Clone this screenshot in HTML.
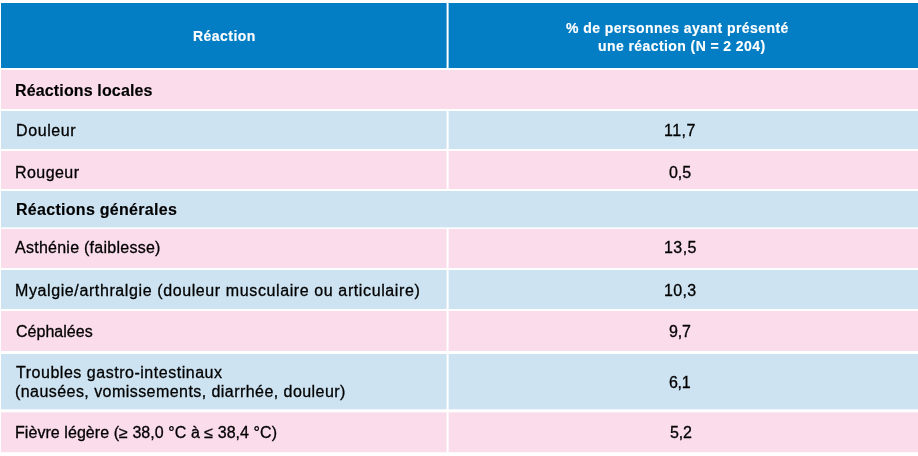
<!DOCTYPE html>
<html lang="fr">
<head>
<meta charset="utf-8">
<title>Réactions</title>
<style>
html,body{margin:0;padding:0;background:#fff;}
body{width:918px;height:456px;position:relative;overflow:hidden;font-family:"Liberation Sans",sans-serif;}
svg.bg{position:absolute;left:0;top:0;width:918px;height:456px;display:block;}
.t{position:absolute;white-space:nowrap;line-height:1;color:#000000;transform-origin:0 0;will-change:transform;}
.t{-webkit-text-stroke:0.3px currentColor;}
.b{font-weight:bold;-webkit-text-stroke:0.15px currentColor;}
.h{font-weight:bold;color:#fff;-webkit-text-stroke:0.15px currentColor;}
</style>
</head>
<body>
<svg class="bg" width="918" height="456" viewBox="0 0 918 456">
<rect x="1" y="3" width="445.6" height="65" fill="#037dc4"/>
<rect x="448.6" y="3" width="469.4" height="65" fill="#037dc4"/>
<rect x="1" y="70" width="917" height="39" fill="#fbdcea"/>
<rect x="1" y="111" width="445.6" height="38" fill="#cde3f1"/>
<rect x="448.6" y="111" width="469.4" height="38" fill="#cde3f1"/>
<rect x="1" y="151" width="445.6" height="38" fill="#fbdcea"/>
<rect x="448.6" y="151" width="469.4" height="38" fill="#fbdcea"/>
<rect x="1" y="191" width="917" height="36.4" fill="#cde3f1"/>
<rect x="1" y="228.9" width="445.6" height="39.1" fill="#fbdcea"/>
<rect x="448.6" y="228.9" width="469.4" height="39.1" fill="#fbdcea"/>
<rect x="1" y="270" width="445.6" height="39" fill="#cde3f1"/>
<rect x="448.6" y="270" width="469.4" height="39" fill="#cde3f1"/>
<rect x="1" y="311" width="445.6" height="40" fill="#fbdcea"/>
<rect x="448.6" y="311" width="469.4" height="40" fill="#fbdcea"/>
<rect x="1" y="354" width="445.6" height="55.3" fill="#cde3f1"/>
<rect x="448.6" y="354" width="469.4" height="55.3" fill="#cde3f1"/>
<rect x="1" y="412.3" width="445.6" height="39.9" fill="#fbdcea"/>
<rect x="448.6" y="412.3" width="469.4" height="39.9" fill="#fbdcea"/>
</svg>
<span id="h1" class="t h" style="left:192.60px;top:28.95px;font-size:14px;letter-spacing:0.457px;">Réaction</span>
<span id="h2" class="t h" style="left:566.15px;top:20.95px;font-size:14px;letter-spacing:0.439px;">% de personnes ayant présenté</span>
<span id="h3" class="t h" style="left:597.80px;top:38.95px;font-size:14px;letter-spacing:0.417px;">une réaction (N = 2 204)</span>
<span id="s1" class="t b" style="left:15.15px;top:82.91px;font-size:16px;letter-spacing:0.144px;">Réactions locales</span>
<span id="r1" class="t " style="left:15.80px;top:122.91px;font-size:16px;letter-spacing:0.600px;">Douleur</span>
<span id="r2" class="t " style="left:15.30px;top:164.91px;font-size:16px;letter-spacing:0.433px;">Rougeur</span>
<span id="s2" class="t b" style="left:15.60px;top:201.91px;font-size:16px;letter-spacing:0.289px;">Réactions générales</span>
<span id="r3" class="t " style="left:15.45px;top:239.91px;font-size:16px;letter-spacing:0.258px;">Asthénie (faiblesse)</span>
<span id="r4" class="t " style="left:15.05px;top:282.91px;font-size:16px;letter-spacing:0.606px;">Myalgie/arthralgie (douleur musculaire ou articulaire)</span>
<span id="r5" class="t " style="left:16.10px;top:323.91px;font-size:16px;letter-spacing:0.025px;">Céphalées</span>
<span id="r6a" class="t " style="left:15.80px;top:364.91px;font-size:16px;letter-spacing:0.523px;">Troubles gastro-intestinaux</span>
<span id="r6b" class="t " style="left:15.10px;top:383.91px;font-size:16px;letter-spacing:0.444px;">(nausées, vomissements, diarrhée, douleur)</span>
<span id="r7" class="t " style="left:15.10px;top:424.91px;font-size:16px;letter-spacing:0.061px;">Fièvre légère (≥ 38,0 °C à ≤ 38,4 °C)</span>
<span id="v1" class="t " style="left:663.75px;top:122.91px;font-size:16px;letter-spacing:0.500px;">11,7</span>
<span id="v2" class="t " style="left:668.95px;top:164.91px;font-size:16px;letter-spacing:-0.050px;">0,5</span>
<span id="v3" class="t " style="left:663.62px;top:239.91px;font-size:16px;letter-spacing:0.417px;">13,5</span>
<span id="v4" class="t " style="left:663.50px;top:282.91px;font-size:16px;letter-spacing:0.333px;">10,3</span>
<span id="v5" class="t " style="left:668.88px;top:323.91px;font-size:16px;letter-spacing:-0.125px;">9,7</span>
<span id="v6" class="t " style="left:668.90px;top:374.91px;font-size:16px;letter-spacing:-0.300px;">6,1</span>
<span id="v7" class="t " style="left:669.80px;top:424.91px;font-size:16px;letter-spacing:-0.200px;">5,2</span>
</body>
</html>
